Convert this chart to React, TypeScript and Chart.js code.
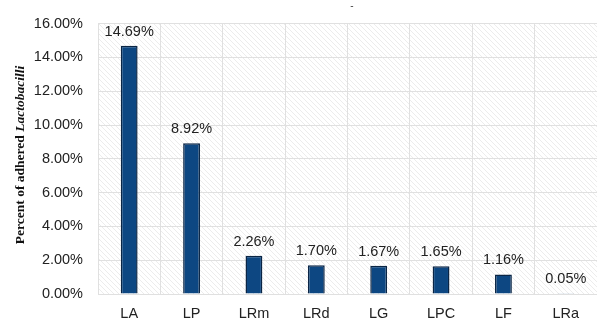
import React, { useEffect, useRef } from "react";
import { Chart, registerables } from "chart.js";

Chart.register(...registerables);

const categories = ["LA", "LP", "LRm", "LRd", "LG", "LPC", "LF", "LRa"];
const values = [14.69, 8.92, 2.26, 1.7, 1.67, 1.65, 1.16, 0.05];
const yTicks = [0, 2, 4, 6, 8, 10, 12, 14, 16];
const titleMain = "Percent of adhered ";
const titleItalic = "Lactobacilli";

const FONT = "'Liberation Sans', Arial, sans-serif";

const hatchPlugin = {
  id: "hatch",
  beforeDraw(chart: any) {
    const { ctx, chartArea } = chart;
    const p = document.createElement("canvas");
    p.width = 5;
    p.height = 5;
    const pc = p.getContext("2d")!;
    pc.fillStyle = "#ffffff";
    pc.fillRect(0, 0, 5, 5);
    pc.strokeStyle = "#ececec";
    pc.lineWidth = 1;
    pc.beginPath();
    pc.moveTo(-1, -1);
    pc.lineTo(6, 6);
    pc.moveTo(-1, 4);
    pc.lineTo(1, 6);
    pc.moveTo(4, -1);
    pc.lineTo(6, 1);
    pc.stroke();
    ctx.save();
    ctx.fillStyle = ctx.createPattern(p, "repeat");
    ctx.fillRect(chartArea.left, chartArea.top, chartArea.right - chartArea.left, chartArea.bottom - chartArea.top);
    ctx.restore();
  },
};

const labelsPlugin = {
  id: "valueLabels",
  afterDatasetsDraw(chart: any) {
    const { ctx } = chart;
    const meta = chart.getDatasetMeta(0);
    ctx.save();
    ctx.font = "14.5px " + FONT;
    ctx.fillStyle = "#222222";
    ctx.textAlign = "center";
    ctx.textBaseline = "bottom";
    meta.data.forEach((el: any, i: number) => {
      ctx.fillText(values[i].toFixed(2) + "%", el.x, el.y - 7);
    });
    ctx.restore();
  },
  afterDraw(chart: any) {
    const { ctx } = chart;
    ctx.save();
    const fMain = "bold 13.5px 'Liberation Serif', 'Times New Roman', serif";
    const fIt = "bold italic 13.5px 'Liberation Serif', 'Times New Roman', serif";
    ctx.font = fMain;
    const w1 = ctx.measureText(titleMain).width;
    ctx.font = fIt;
    const w2 = ctx.measureText(titleItalic).width;
    const total = w1 + w2;
    const cy = 155;
    ctx.translate(21, cy);
    ctx.rotate(-Math.PI / 2);
    ctx.fillStyle = "#111111";
    ctx.textBaseline = "middle";
    ctx.textAlign = "left";
    ctx.font = fMain;
    ctx.fillText(titleMain, -total / 2, 0);
    ctx.font = fIt;
    ctx.fillText(titleItalic, -total / 2 + w1, 0);
    ctx.restore();
    ctx.save();
    ctx.fillStyle = "#444";
    ctx.font = "10px " + FONT;
    ctx.textAlign = "center";
    ctx.fillText("-", 352, 9);
    ctx.restore();
  },
};

export default function App() {
  const ref = useRef<HTMLCanvasElement>(null);
  useEffect(() => {
    document.body.style.margin = "0";
    const chart = new Chart(ref.current!, {
      type: "bar",
      data: {
        labels: categories,
        datasets: [
          {
            data: values,
            backgroundColor: "#0d4782",
            borderColor: "#0a2545",
            borderWidth: 1.5,
            barPercentage: 0.27,
            categoryPercentage: 1,
          },
        ],
      },
      options: {
        responsive: false,
        animation: false,
        maintainAspectRatio: false,
        layout: { padding: { left: 0, right: 0, top: 18, bottom: 0 } },
        plugins: { legend: { display: false }, tooltip: { enabled: false }, title: { display: false } },
        scales: {
          x: {
            grid: { color: "#e0e0e0", offset: true, drawTicks: false },
            border: { display: false },
            ticks: {
              color: "#222",
              font: { size: 14.5, family: FONT },
              padding: 11,
            },
            afterFit(s: any) {
              s.height = 26;
            },
          },
          y: {
            min: 0,
            max: 16,
            afterBuildTicks(s: any) {
              s.ticks = yTicks.map((v) => ({ value: v }));
            },
            grid: { color: "#e0e0e0", drawTicks: false },
            border: { display: false },
            ticks: {
              color: "#222",
              font: { size: 14.5, family: FONT },
              padding: 15,
              callback: (v: any) => Number(v).toFixed(2) + "%",
            },
            afterFit(s: any) {
              s.width = 98;
            },
          },
        },
      },
      plugins: [hatchPlugin, labelsPlugin],
    });
    return () => chart.destroy();
  }, []);
  return (
    <div style={{ width: 597, height: 320, background: "#fff" }}>
      <canvas ref={ref} width={597} height={320} style={{ display: "block" }} />
    </div>
  );
}
